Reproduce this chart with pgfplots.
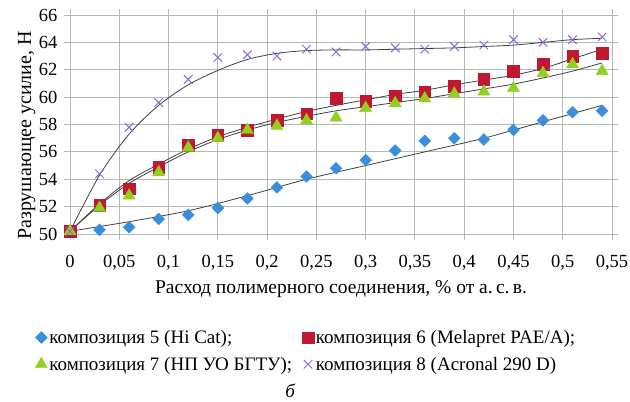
\documentclass[border=0pt]{standalone}
\usepackage{fontspec}
\setmainfont{Liberation Serif}
\usepackage{pgfplots}
\pgfplotsset{compat=1.18}
\definecolor{cblue}{HTML}{3A8EDB}
\definecolor{cred}{HTML}{C0182E}
\definecolor{cgreen}{HTML}{92D020}
\definecolor{cpurple}{HTML}{9066DA}
\definecolor{cgrid}{HTML}{AEBCB6}
\begin{document}
\begin{tikzpicture}
\useasboundingbox (-70pt,-168pt) rectangle (560pt,234pt);
\begin{axis}[
  scale only axis, width=542pt, height=219pt,
  clip mode=individual,
  xmin=0, xmax=0.55, ymin=50, ymax=66,
  xtick={0,0.05,...,0.56}, ytick={50,52,...,66},
  grid=major, grid style={cgrid, line width=0.9pt},
  axis line style={cgrid, line width=0.9pt},
  tick align=outside, major tick length=6pt,
  tick style={cgrid, line width=0.9pt},
  /pgf/number format/assume math mode=true,
  /pgf/number format/use comma,
  xticklabel style={font=\fontsize{18.5}{20}\selectfont, yshift=-12pt, /pgf/number format/fixed, /pgf/number format/precision=2},
  yticklabel style={font=\fontsize{18.5}{20}\selectfont, xshift=-3pt},
  xlabel={Расход полимерного соединения, \% от а.\,с.\,в.},
  ylabel={Разрушающее усилие, Н},
  xlabel style={font=\fontsize{19.5}{21}\selectfont, at={(axis description cs:0.5,-0.25)}, anchor=center},
  ylabel style={font=\fontsize{20}{22}\selectfont, at={(axis description cs:-0.08,0.45)}, anchor=center},
  legend columns=2,
  legend style={draw=none, font=\fontsize{19}{21}\selectfont, at={(axis description cs:-0.07,-0.42)}, anchor=north west,
    /tikz/every even column/.append style={column sep=8pt}, row sep=8pt},
  legend cell align=left,
  legend image code/.code={\draw[#1] (0pt,0pt) plot coordinates {(0pt,0pt)};},
]
% trend lines
\addplot[black!75, line width=0.8pt, smooth, forget plot] coordinates {
(0,50.2) (0.06,50.9) (0.12,51.7) (0.18,52.8) (0.24,54.0) (0.30,55.0) (0.36,56.0) (0.42,57.0) (0.48,58.2) (0.54,59.4)};
\addplot[black!75, line width=0.8pt, smooth, forget plot] coordinates {
(0,50.2) (0.03,52.2) (0.06,53.9) (0.09,55.1) (0.12,56.2) (0.15,57.1) (0.18,57.8) (0.21,58.4) (0.24,58.95) (0.27,59.4) (0.30,59.8) (0.33,60.2) (0.36,60.5) (0.39,60.9) (0.42,61.25) (0.45,61.6) (0.48,62.1) (0.51,62.8) (0.54,63.5)};
\addplot[black!75, line width=0.8pt, smooth, forget plot] coordinates {
(0,50.2) (0.03,52.1) (0.06,53.7) (0.09,54.9) (0.12,56.0) (0.15,56.9) (0.18,57.6) (0.21,58.15) (0.24,58.6) (0.27,59.0) (0.30,59.3) (0.33,59.6) (0.36,59.9) (0.39,60.25) (0.42,60.6) (0.45,60.95) (0.48,61.4) (0.51,61.9) (0.54,62.5)};
\addplot[black!75, line width=0.8pt, smooth, forget plot] coordinates {
(0,50.2) (0.03,54.3) (0.06,57.3) (0.09,59.4) (0.12,60.9) (0.15,61.95) (0.18,62.75) (0.21,63.2) (0.24,63.4) (0.27,63.45) (0.30,63.45) (0.33,63.5) (0.36,63.55) (0.39,63.6) (0.42,63.7) (0.45,63.8) (0.48,64.0) (0.51,64.2) (0.54,64.3)};
% data
\addplot[only marks, mark=square*, mark size=4.2pt, mark options={rotate=45}, color=cblue] coordinates {
(0,50.2) (0.03,50.3) (0.06,50.5) (0.09,51.1) (0.12,51.4) (0.15,51.9) (0.18,52.6) (0.21,53.4) (0.24,54.2) (0.27,54.8) (0.30,55.4) (0.33,56.1) (0.36,56.8) (0.39,57.0) (0.42,56.9) (0.45,57.6) (0.48,58.3) (0.51,58.9) (0.54,59.0)};
\addlegendentry{композиция 5 (Hi Cat);}
\addplot[only marks, mark=square*, mark size=5.8pt, color=cred] coordinates {
(0,50.2) (0.03,52.1) (0.06,53.3) (0.09,54.9) (0.12,56.5) (0.15,57.2) (0.18,57.6) (0.21,58.3) (0.24,58.8) (0.27,59.9) (0.30,59.7) (0.33,60.1) (0.36,60.4) (0.39,60.8) (0.42,61.3) (0.45,61.9) (0.48,62.4) (0.51,63.0) (0.54,63.2)};
\addlegendentry{композиция 6 (Melapret PAE/A);}
\addplot[only marks, mark=triangle*, mark size=7pt, color=cgreen] coordinates {
(0,50.2) (0.03,51.9) (0.06,52.8) (0.09,54.5) (0.12,56.3) (0.15,57.0) (0.18,57.6) (0.21,57.9) (0.24,58.3) (0.27,58.5) (0.30,59.2) (0.33,59.55) (0.36,59.9) (0.39,60.25) (0.42,60.4) (0.45,60.65) (0.48,61.75) (0.51,62.4) (0.54,61.9)};
\addlegendentry{композиция 7 (НП УО БГТУ);}
\addplot[only marks, mark=x, mark size=6pt, line width=1pt, color=cpurple] coordinates {
(0,50.2) (0.03,54.4) (0.06,57.8) (0.09,59.6) (0.12,61.3) (0.15,62.9) (0.18,63.1) (0.21,63.0) (0.24,63.5) (0.27,63.3) (0.30,63.7) (0.33,63.6) (0.36,63.5) (0.39,63.7) (0.42,63.8) (0.45,64.2) (0.48,64.0) (0.51,64.2) (0.54,64.4)};
\addlegendentry{композиция 8 (Acronal 290 D)}
\node[font=\fontsize{19}{21}\selectfont\itshape] at (axis description cs:0.406,-0.715) {б};
\end{axis}
\end{tikzpicture}
\end{document}
